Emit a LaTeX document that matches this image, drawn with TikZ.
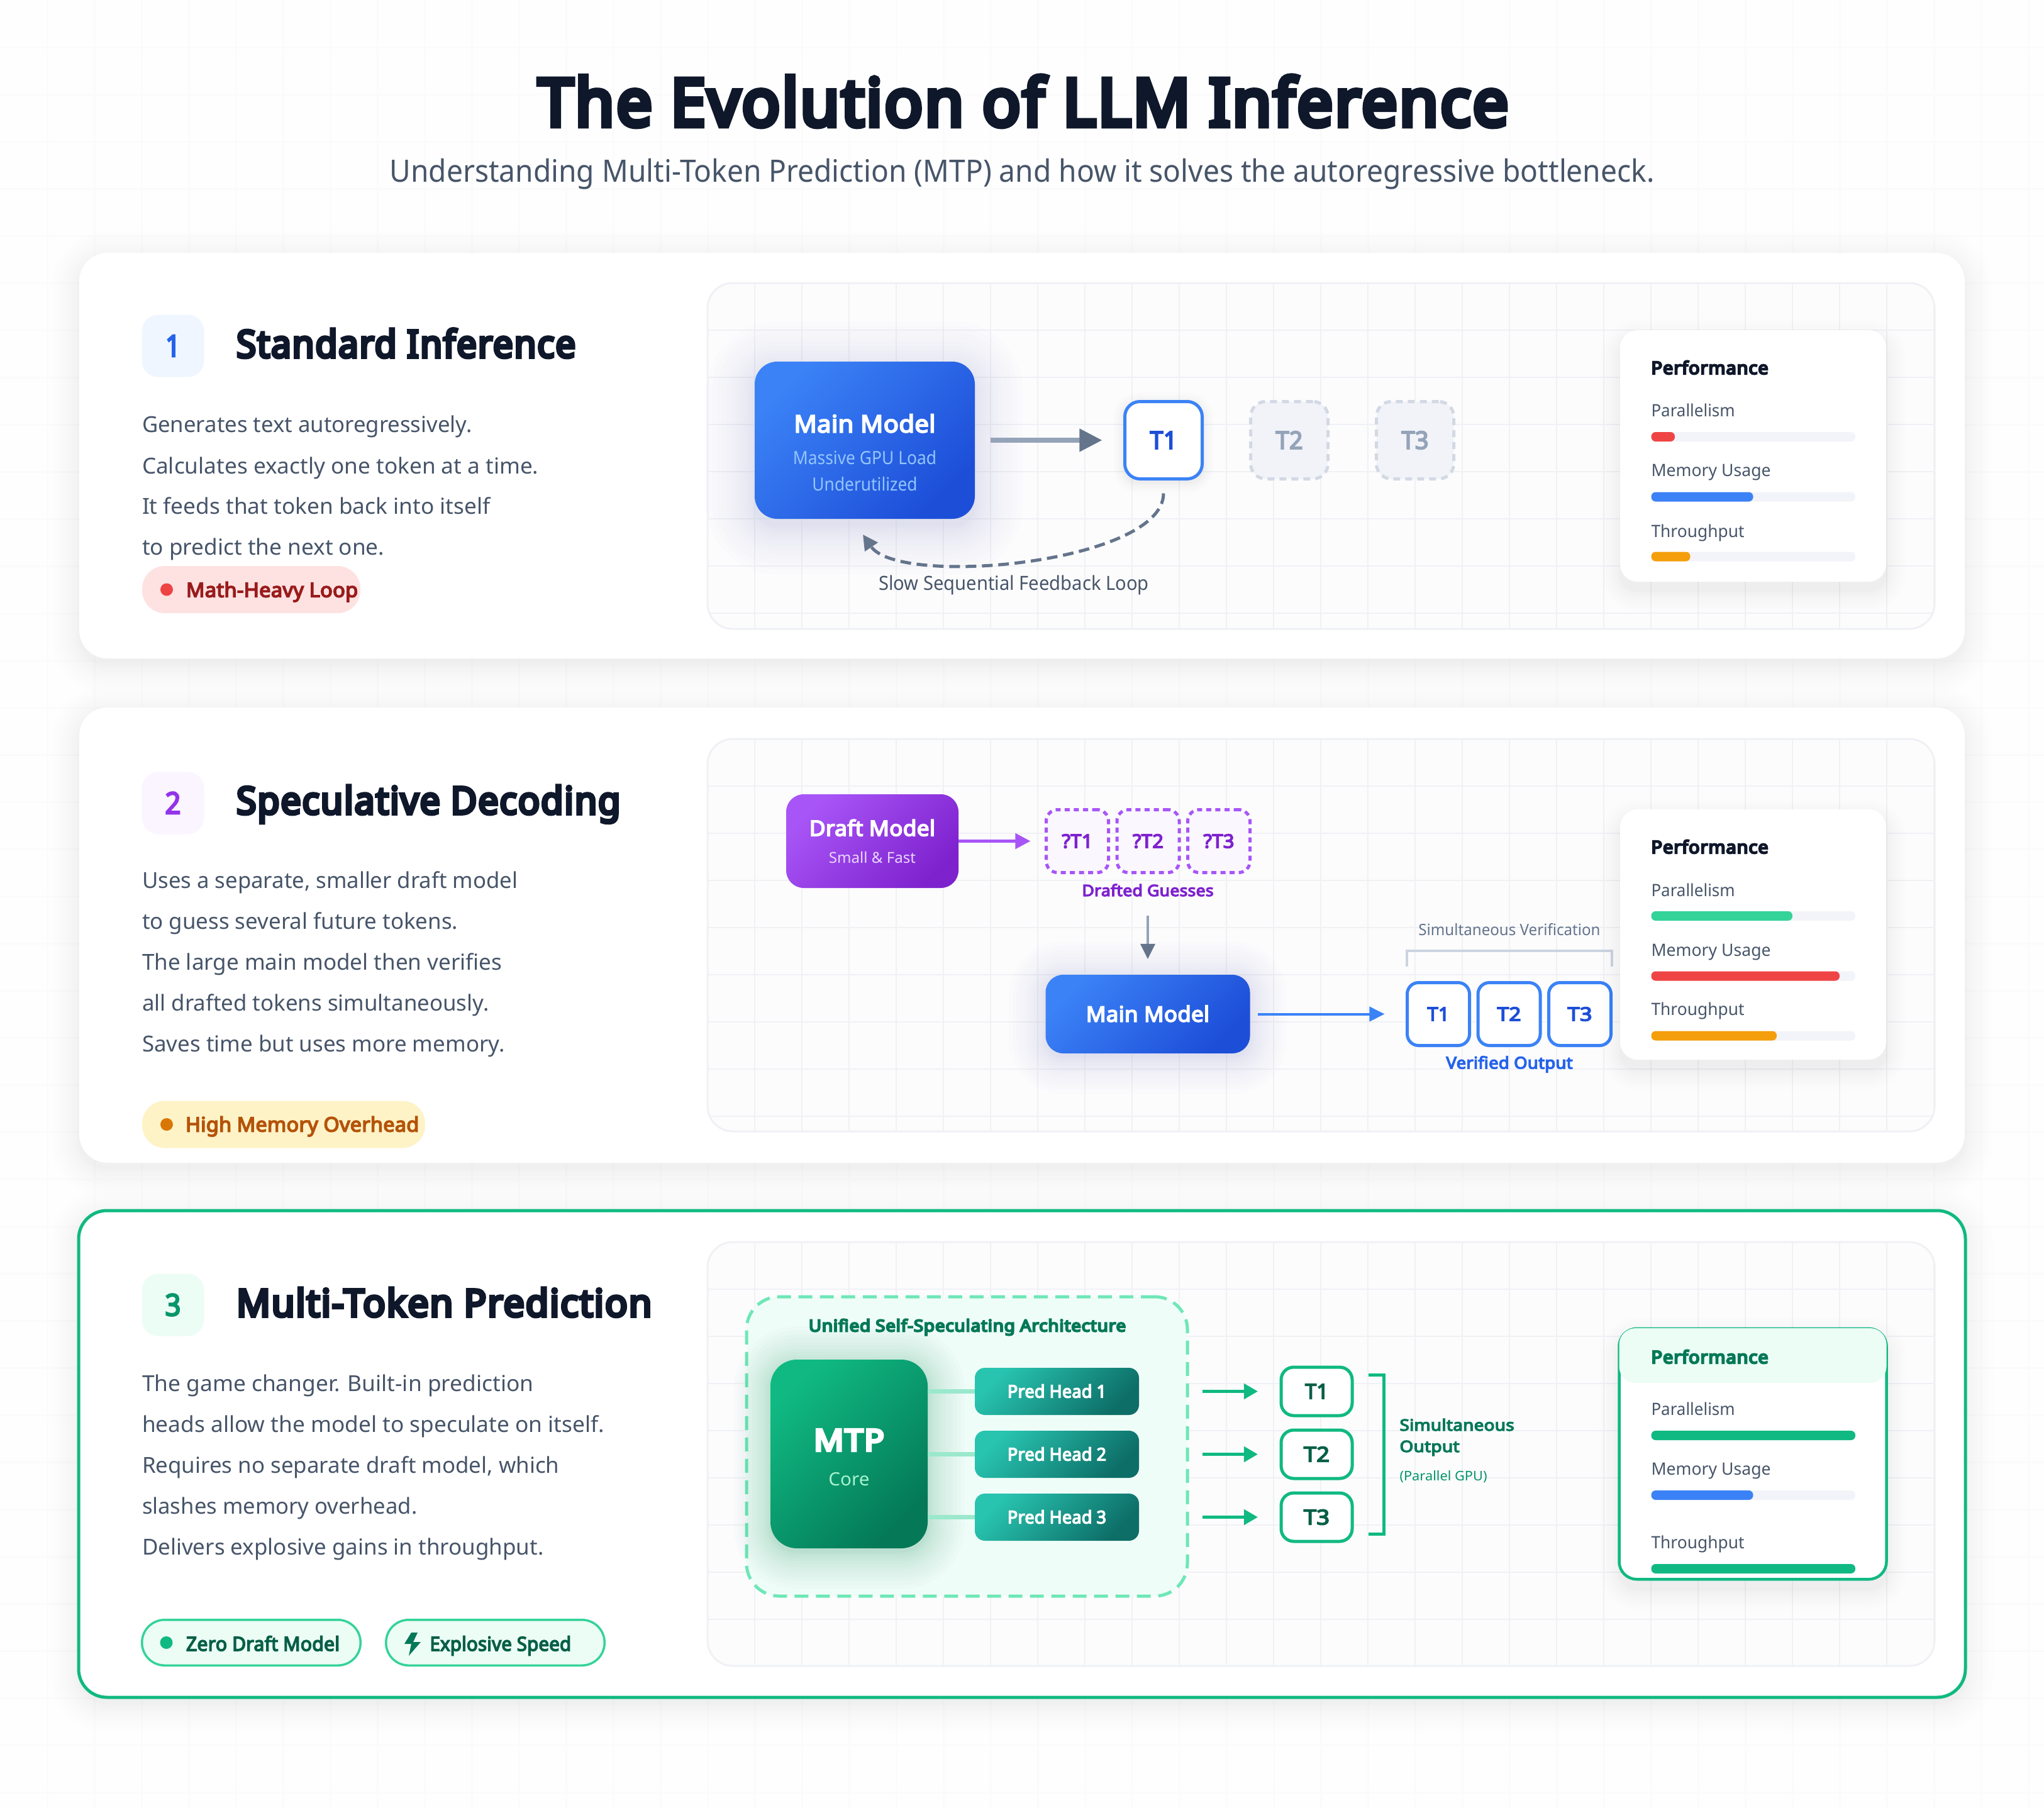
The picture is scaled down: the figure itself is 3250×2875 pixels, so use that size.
\documentclass[tikz,border=0pt]{standalone}
\usepackage{fontspec}
\usepackage{xfp}
\usepackage{graphicx}
\usetikzlibrary{arrows.meta}
\setmainfont{Noto Sans}
\newfontfamily\hvfam[FakeBold=8,LetterSpace=3]{Noto Sans}
\newfontfamily\bdfam[FakeBold=5,LetterSpace=1]{Noto Sans}
\newcommand\hvy{\hvfam}
\newcommand\bdy{\bdfam}
\newdimen\pxu \pxu=0.01cm
\newsavebox\tbox
\newlength\tlen
\newcommand\fsz[1]{\fontsize{\fpeval{#1*0.284528}}{\fpeval{#1*0.34}}\selectfont}
% font switch, size px, width px, text: node height = cap height
\newcommand\tx[4]{{#1\fsz{#2}\sbox\tbox{#4}\setlength\tlen{\wd\tbox}\rule{0pt}{.714em}\smash{\scalebox{\fpeval{#3*0.284528/\tlen}}[1]{\usebox\tbox}}}}
\newcommand\nf{\mdseries}
\definecolor{ink}{HTML}{0F172A}
\definecolor{slate}{HTML}{475569}
\definecolor{slatel}{HTML}{64748B}
\definecolor{slatem}{HTML}{94A3B8}
\definecolor{blu}{HTML}{3B82F6}
\definecolor{blud}{HTML}{1D4ED8}
\definecolor{blum}{HTML}{2563EB}
\definecolor{pur}{HTML}{A855F7}
\definecolor{purd}{HTML}{7E22CE}
\definecolor{grn}{HTML}{10B981}
\definecolor{grnd}{HTML}{047857}
\definecolor{grnx}{HTML}{065F46}
\definecolor{mint}{HTML}{ECFDF5}
\definecolor{track}{HTML}{F3F4F9}
\definecolor{gridc}{HTML}{F0F1F5}
\definecolor{pagegrid}{HTML}{FBFBFC}
\definecolor{HL}{HTML}{28C4B0}
\definecolor{HD}{HTML}{0D6E67}
\definecolor{GH}{HTML}{F1F3F9}
\definecolor{GB}{HTML}{D3D9E4}
\definecolor{GF}{HTML}{FAF7FE}
\definecolor{pf}{HTML}{FCFCFD}
\definecolor{EFF}{HTML}{EFF6FF}
\definecolor{FEE}{HTML}{FEE2E2}
\definecolor{RD}{HTML}{EF4444}
\definecolor{RDD}{HTML}{991B1B}
\definecolor{BFL}{HTML}{93C5FD}
\definecolor{ORG}{HTML}{F59E0B}
\definecolor{PUL}{HTML}{FAF5FF}
\definecolor{PUT}{HTML}{9333EA}
\definecolor{AML}{HTML}{FEF3C7}
\definecolor{AMD}{HTML}{D97706}
\definecolor{AMT}{HTML}{B45309}
\definecolor{PUX}{HTML}{E9D5FF}
\definecolor{GRL}{HTML}{34D399}
\definecolor{BRK}{HTML}{CBD5E1}
\definecolor{GRT}{HTML}{059669}
\definecolor{MNL}{HTML}{EFFDF8}
\definecolor{GRM}{HTML}{6EE7B7}
\definecolor{GRX}{HTML}{A7F3D0}
\definecolor{CNC}{HTML}{9BE8CD}
\tikzset{
  wh/.style 2 args={minimum width=#1*\pxu,minimum height=#2*\pxu,inner sep=0pt,outer sep=0pt},
  rr/.style={rounded corners=#1*\pxu},
  lw/.style={line width=#1*\pxu},
  tb/.style={inner sep=0pt,outer sep=0pt},
  tl/.style={tb,anchor=west},
  cardbox/.style={fill=white,rr=45},
  panelbox/.style={fill=pf,draw=gridc,lw=3,rr=40},
  perfbox/.style={fill=white,rr=28},
  badge/.style={wh={99}{99},rr=26},
  pill/.style={rr=36},
  dotn/.style={circle,wh={20}{20}},
  mainbox/.style={top color=blu,bottom color=blud,shading angle=45},
  draftbox/.style={top color=pur,bottom color=purd,shading angle=45},
  corebox/.style={top color=grn,bottom color=grnd,shading angle=45},
  headbox/.style={top color=HL,bottom color=HD,shading angle=45,wh={261}{75},rr=16},
  tokb/.style={fill=white,draw=blu,lw=5,rr=#1},
  ghost/.style={fill=GH,draw=GB,lw=5,rr=24,dash pattern=on 0.11cm off 0.08cm,wh={123}{123}},
  guess/.style={fill=GF,draw=pur,lw=5,rr=18,dash pattern=on 0.08cm off 0.065cm,wh={99}{100}},
  tokg/.style={fill=white,draw=grn,lw=5,rr=20,wh={113}{77}},
  tokv/.style={tokb=18,wh={99}{100}},
  garr/.style={draw=grn,lw=5,-{Triangle[length=0.22cm,width=0.24cm,fill=grn]}},
}
% soft glow: cx cy w h radius colour spread opacity-per-layer
\newcommand\glow[8]{%
  \foreach \gi in {1,...,14}{%
    \pgfmathsetmacro\gs{#7*(1-\gi/14)^1.5+0.5}%
    \pgfmathsetmacro\gr{#5+\gs}%
    \path[fill=#6,fill opacity=#8,rounded corners=\gr*\pxu]
      ({#1-#3/2-\gs},{#2-#4/2-\gs}) rectangle ({#1+#3/2+\gs},{#2+#4/2+\gs});
  }}
% name, y, fill end width, colour
\newcommand\perfbar[4]{%
  \node[wh={324.5}{15},anchor=west,fill=track,rr=7] (#1t) at (2625.5,#2) {};
  \node[wh={#3}{15},anchor=west,fill=#4,rr=7] (#1f) at (2625.5,#2) {};
}
\newcommand\panelgrid[2]{%
  \begin{scope}
    \clip[rounded corners=40*\pxu] (1125,#1) rectangle (3076,#2);
    \foreach \gx in {1200,1275,...,3076}{\draw[gridc,lw=2] (\gx,#1) -- (\gx,#2);}
    \pgfmathsetmacro\ga{#1+75}\pgfmathsetmacro\gb{#1+150}
    \foreach \gy in {\ga,\gb,...,#2}{\draw[gridc,lw=2] (1125,\gy) -- (3076,\gy);}
  \end{scope}}
\begin{document}
\begin{tikzpicture}[x=0.01cm,y=-0.01cm]
\useasboundingbox (0,0) rectangle (3250,2875);
\fill[white!70!pf] (0,0) rectangle (3250,2875);
\foreach \gx in {75,150,...,3250}{\draw[pagegrid,lw=3] (\gx,0) -- (\gx,2875);}
\foreach \gy in {75,150,...,2875}{\draw[pagegrid,lw=3] (0,\gy) -- (3250,\gy);}
% header
\node[tb,text=ink] (title) at (1627,163) {\tx{\hvy}{104}{1542}{The Evolution of LLM Inference}};
\node[tb,text=slate] (sub) at (1625,272) {\tx{\nf}{49}{2010}{Understanding Multi-Token Prediction (MTP) and how it solves the autoregressive bottleneck.}};
% ---------- cards
\glow{1625}{735}{2998}{645}{45}{ink}{50}{0.0025}
\glow{1625}{1497}{2998}{724}{45}{ink}{50}{0.0025}
\glow{1625}{2322}{3000}{774}{45}{ink}{50}{0.0025}
\node[cardbox,wh={2998}{645}] (card1) at (1625,724.5) {};
\node[cardbox,wh={2998}{724}] (card2) at (1625,1487) {};
\node[cardbox,wh={3000}{774},draw=grn,lw=5] (card3) at (1625,2312) {};
% panels
\node[panelbox,wh={1951}{550}] (pan1) at (2100.5,725) {};
\node[panelbox,wh={1951}{624}] (pan2) at (2100.5,1487) {};
\node[panelbox,wh={1951}{674}] (pan3) at (2100.5,2312) {};
\panelgrid{450}{1000}
\panelgrid{1175}{1799}
\panelgrid{1975}{2649}
% ---------- card 1 left
\node[badge,fill=EFF] (b1) at (275,550) {\tx{\bdy}{48}{24}{\textcolor{blum}{1}}};
\node[tl,text=ink] (h1) at (376,547) {\tx{\hvy}{60}{539}{Standard Inference}};
\node[tl,text=slate] (l11) at (226,675) {\tx{\nf}{35}{524}{Generates text autoregressively.}};
\node[tl,text=slate] (l12) at (226,741) {\tx{\nf}{35}{630}{Calculates exactly one token at a time.}};
\node[tl,text=slate] (l13) at (226,805) {\tx{\nf}{35}{553}{It feeds that token back into itself}};
\node[tl,text=slate] (l14) at (226,870) {\tx{\nf}{35}{385}{to predict the next one.}};
\node[pill,wh={347}{75},fill=FEE] (p1) at (399.5,937.5) {};
\node[dotn,fill=RD] (p1d) at (265,937.5) {};
\node[tl,text=RDD] (p1t) at (296,938) {\tx{\bdy}{32}{273}{Math-Heavy Loop}};
% ---------- card 1 diagram
\glow{1375}{712}{350}{250}{36}{blum}{85}{0.008}
\node[mainbox,wh={350}{250},rr=36] (m1) at (1375,700) {};
\node[tb,text=white] (m1a) at (1375,674) {\tx{\bdy}{38}{225}{Main Model}};
\node[tb,text=BFL] (m1b) at (1375,728) {\tx{\nf}{29}{228}{Massive GPU Load}};
\node[tb,text=BFL] (m1c) at (1375,770) {\tx{\nf}{29}{167}{Underutilized}};
\glow{1850}{704}{128}{128}{24}{ink}{18}{0.0025}
\node[tokb=24,wh={123}{123}] (t1) at (1850,700) {\tx{\bdy}{39}{43}{\textcolor{blud}{T1}}};
\node[ghost] (t2) at (2050,700) {\tx{\bdy}{39}{43}{\textcolor{slatem}{T2}}};
\node[ghost] (t3) at (2250,700) {\tx{\bdy}{39}{43}{\textcolor{slatem}{T3}}};
\draw[draw=slatem,lw=7.5,-{Triangle[length=0.36cm,width=0.35cm,fill=slatel,color=slatel]},shorten <=0.25cm,shorten >=0.36cm] (m1) -- (t1);
\coordinate (fbend) at (1372,850);
\draw[draw=slatel,lw=5,dash pattern=on 0.17cm off 0.09cm,-{Triangle[length=0.24cm,width=0.24cm,fill=slatel]},shorten <=0.23cm] (t1.south) .. controls (1850,895) and (1430,935) .. (fbend);
\node[tb,text=slate] (fb) at (1612,927) {\tx{\nf}{31}{429}{Slow Sequential Feedback Loop}};
% perf 1
\glow{2787.5}{740}{423}{400}{28}{ink}{35}{0.0025}
\node[perfbox,wh={423}{400}] (pf1) at (2787.5,725) {};
\node[tl,text=ink] (pf1h) at (2625.5,585) {\tx{\hvy}{28}{186}{Performance}};
\node[tl,text=slate] (pf1a) at (2625.5,653) {\tx{\nf}{27}{133}{Parallelism}};
\node[tl,text=slate] (pf1b) at (2625.5,748) {\tx{\nf}{27}{190}{Memory Usage}};
\node[tl,text=slate] (pf1c) at (2625.5,845) {\tx{\nf}{27}{148}{Throughput}};
\perfbar{pa1}{694.5}{37.5}{RD}
\perfbar{pb1}{790}{162}{blu}
\perfbar{pc1}{885}{62}{ORG}
% ---------- card 2 left
\node[badge,fill=PUL] (b2) at (275,1277) {\tx{\bdy}{48}{25}{\textcolor{PUT}{2}}};
\node[tl,text=ink] (h2) at (376,1273) {\tx{\hvy}{60}{610}{Speculative Decoding}};
\node[tl,text=slate] (l21) at (226,1400) {\tx{\nf}{35}{597}{Uses a separate, smaller draft model}};
\node[tl,text=slate] (l22) at (226,1465) {\tx{\nf}{35}{502}{to guess several future tokens.}};
\node[tl,text=slate] (l23) at (226,1530) {\tx{\nf}{35}{572}{The large main model then verifies}};
\node[tl,text=slate] (l24) at (226,1595) {\tx{\nf}{35}{551}{all drafted tokens simultaneously.}};
\node[tl,text=slate] (l25) at (226,1660) {\tx{\nf}{35}{576}{Saves time but uses more memory.}};
\node[pill,wh={450}{75},fill=AML] (p2) at (451,1788) {};
\node[dotn,fill=AMD] (p2d) at (265,1788) {};
\node[tl,text=AMT] (p2t) at (295,1788) {\tx{\bdy}{32}{371}{High Memory Overhead}};
% ---------- card 2 diagram
\node[draftbox,wh={274}{149},rr=28] (dr) at (1387,1337.5) {};
\node[tb,text=white] (dra) at (1387,1317) {\tx{\bdy}{34}{200}{Draft Model}};
\node[tb,text=PUX] (drb) at (1387,1364) {\tx{\nf}{24}{138}{Small \& Fast}};
\node[guess] (g1) at (1713,1337.5) {\tx{\bdy}{30}{49}{\textcolor{purd}{?T1}}};
\node[guess] (g2) at (1825.5,1337.5) {\tx{\bdy}{30}{49}{\textcolor{purd}{?T2}}};
\node[guess] (g3) at (1938,1337.5) {\tx{\bdy}{30}{49}{\textcolor{purd}{?T3}}};
\draw[draw=pur,lw=5,-{Triangle[length=0.24cm,width=0.24cm,fill=pur]},shorten >=0.25cm] (dr) -- (g1);
\node[tb,text=purd] (dg) at (1825,1416) {\tx{\bdy}{25}{209}{Drafted Guesses}};
\glow{1825}{1618}{325}{125}{28}{blum}{65}{0.007}
\node[mainbox,wh={325}{125},rr=28] (m2) at (1825,1612.5) {\tx{\bdy}{34}{196}{\textcolor{white}{Main Model}}};
\draw[draw=slatem,lw=3.5,-{Triangle[length=0.24cm,width=0.23cm,fill=slatel,color=slatel]},shorten <=0.31cm,shorten >=0.25cm] (dg) -- (m2);
\node[tokv] (v1) at (2287,1612.5) {\tx{\bdy}{30}{35}{\textcolor{blud}{T1}}};
\node[tokv] (v2) at (2399.5,1612.5) {\tx{\bdy}{30}{38}{\textcolor{blud}{T2}}};
\node[tokv] (v3) at (2512,1612.5) {\tx{\bdy}{30}{39}{\textcolor{blud}{T3}}};
\draw[draw=blu,lw=4,-{Triangle[length=0.24cm,width=0.23cm,fill=blu]},shorten <=0.125cm,shorten >=0.36cm] (m2) -- (v1);
\coordinate (sb1) at (2237,1537); \coordinate (sb2) at (2237,1512); \coordinate (sb3) at (2563,1512); \coordinate (sb4) at (2563,1537);
\draw[draw=BRK,lw=4] (sb1) -- (sb2) -- (sb3) -- (sb4);
\node[tb,text=slatel] (sv) at (2400,1479) {\tx{\nf}{25}{289}{Simultaneous Verification}};
\node[tb,text=blum] (vo) at (2400,1690) {\tx{\bdy}{26}{201}{Verified Output}};
% perf 2
\glow{2787.5}{1502}{423}{398}{28}{ink}{35}{0.0025}
\node[perfbox,wh={423}{398}] (pf2) at (2787.5,1486) {};
\node[tl,text=ink] (pf2h) at (2625.5,1347) {\tx{\hvy}{28}{186}{Performance}};
\node[tl,text=slate] (pf2a) at (2625.5,1416) {\tx{\nf}{27}{133}{Parallelism}};
\node[tl,text=slate] (pf2b) at (2625.5,1511) {\tx{\nf}{27}{190}{Memory Usage}};
\node[tl,text=slate] (pf2c) at (2625.5,1605) {\tx{\nf}{27}{148}{Throughput}};
\perfbar{pa2}{1456.5}{224.5}{GRL}
\perfbar{pb2}{1552}{299.5}{RD}
\perfbar{pc2}{1647}{199.5}{ORG}
% ---------- card 3 left
\node[badge,fill=mint] (b3) at (275,2075) {\tx{\bdy}{48}{25}{\textcolor{GRT}{3}}};
\node[tl,text=ink] (h3) at (376,2072) {\tx{\hvy}{60}{660}{Multi-Token Prediction}};
\node[tl,text=slate] (l31) at (226,2200) {\tx{\nf}{35}{622}{The game changer. Built-in prediction}};
\node[tl,text=slate] (l32) at (226,2265) {\tx{\nf}{35}{734}{heads allow the model to speculate on itself.}};
\node[tl,text=slate] (l33) at (226,2330) {\tx{\nf}{35}{663}{Requires no separate draft model, which}};
\node[tl,text=slate] (l34) at (226,2395) {\tx{\nf}{35}{437}{slashes memory overhead.}};
\node[tl,text=slate] (l35) at (226,2460) {\tx{\nf}{35}{638}{Delivers explosive gains in throughput.}};
\node[pill,wh={347.5}{72.5},fill=mint,draw=GRL,lw=3.5] (p3) at (399.5,2612) {};
\node[dotn,fill=grn] (p3d) at (264.5,2612) {};
\node[tl,text=grnx] (p3t) at (296,2614) {\tx{\bdy}{31}{244}{Zero Draft Model}};
\node[pill,wh={347.5}{72.5},fill=mint,draw=GRL,lw=3.5] (p4) at (787.5,2612) {};
\fill[grnd] (654,2596) -- (643,2614) -- (654,2614) -- (650,2633) -- (669,2611) -- (657,2611) -- (664,2596) -- cycle;
\node[tl,text=grnx] (p4t) at (683.5,2614) {\tx{\bdy}{31}{224.5}{Explosive Speed}};
% ---------- card 3 diagram
\node[wh={701}{476},rr=52,fill=MNL,draw=GRM,lw=5,dash pattern=on 0.22cm off 0.12cm] (uni) at (1537.5,2300) {};
\node[tb,text=grnd] (unit) at (1538,2108) {\tx{\hvy}{26}{504}{Unified Self-Speculating Architecture}};
\glow{1350}{2318}{250}{300}{42}{grnd}{65}{0.014}
\node[corebox,wh={250}{300},rr=42] (core) at (1350,2312) {};
\node[tb,text=white] (corea) at (1350,2290) {\tx{\hvy}{48}{112}{MTP}};
\node[tb,text=GRX] (coreb) at (1350,2352) {\tx{\nf}{29}{65}{Core}};
\node[headbox] (h-a) at (1680.5,2212.5) {\tx{\bdy}{28}{157}{\textcolor{white}{Pred Head 1}}};
\node[headbox] (h-b) at (1680.5,2312.5) {\tx{\bdy}{28}{157}{\textcolor{white}{Pred Head 2}}};
\node[headbox] (h-c) at (1680.5,2412.5) {\tx{\bdy}{28}{157}{\textcolor{white}{Pred Head 3}}};
\foreach \hh in {h-a,h-b,h-c}{\draw[draw=CNC,lw=7] (core.east |- \hh.west) -- (\hh.west);}
\node[tokg] (o1) at (2093.5,2212.5) {\tx{\bdy}{33}{37}{\textcolor{grnx}{T1}}};
\node[tokg] (o2) at (2093.5,2312.5) {\tx{\bdy}{33}{41}{\textcolor{grnx}{T2}}};
\node[tokg] (o3) at (2093.5,2412.5) {\tx{\bdy}{33}{41}{\textcolor{grnx}{T3}}};
\draw[garr,shorten <=1.01cm,shorten >=0.37cm] (h-a) -- (o1);
\draw[garr,shorten <=1.01cm,shorten >=0.37cm] (h-b) -- (o2);
\draw[garr,shorten <=1.01cm,shorten >=0.37cm] (h-c) -- (o3);
\coordinate (gb1) at (2176,2186); \coordinate (gb2) at (2200,2186); \coordinate (gb3) at (2200,2439); \coordinate (gb4) at (2176,2439);
\draw[draw=grn,lw=5] (gb1) -- (gb2) -- (gb3) -- (gb4);
\node[tl,text=grnd] (so1) at (2225.5,2266) {\tx{\bdy}{25}{182}{Simultaneous}};
\node[tl,text=grnd] (so2) at (2225.5,2300) {\tx{\bdy}{25}{95}{Output}};
\node[tl,text=GRT] (so3) at (2225.5,2347) {\tx{\nf}{21}{139}{(Parallel GPU)}};
% perf 3
\glow{2787}{2327}{426}{402}{30}{ink}{35}{0.0025}
\node[perfbox,wh={425}{398.5},draw=grn,lw=4.5] (pf3) at (2787,2312) {};
\node[wh={425}{87},fill=mint,rr=26,anchor=north] (pf3top) at (2787,2112) {};
\node[tl,text=grnd] (pf3h) at (2625.5,2158) {\tx{\hvy}{28}{186}{Performance}};
\node[tl,text=slate] (pf3a) at (2625.5,2241) {\tx{\nf}{27}{133}{Parallelism}};
\node[tl,text=slate] (pf3b) at (2625.5,2336) {\tx{\nf}{27}{190}{Memory Usage}};
\node[tl,text=slate] (pf3c) at (2625.5,2453) {\tx{\nf}{27}{148}{Throughput}};
\perfbar{pa3}{2282.5}{324.5}{grn}
\perfbar{pb3}{2377.5}{162}{blu}
\perfbar{pc3}{2494.5}{324.5}{grn}
\end{tikzpicture}
\end{document}
